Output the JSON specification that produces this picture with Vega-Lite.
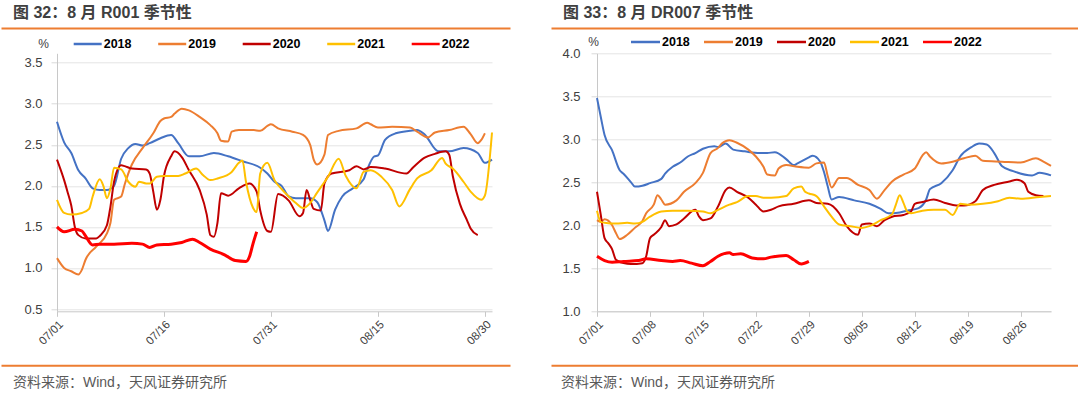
{
  "$schema": "https://vega.github.io/schema/vega-lite/v6.json",
  "padding": {"left": 1, "top": 4, "right": -46, "bottom": 0},
  "datasets": {
    "r001": [
      {"date":"2022-07-01T00:00","year":"2018","value":2.78},{"date":"2022-07-02T00:00","year":"2018","value":2.53},{"date":"2022-07-03T00:00","year":"2018","value":2.40},{"date":"2022-07-04T00:00","year":"2018","value":2.19},{"date":"2022-07-05T00:00","year":"2018","value":2.09},{"date":"2022-07-06T00:00","year":"2018","value":1.97},{"date":"2022-07-07T00:00","year":"2018","value":1.95},{"date":"2022-07-08T00:00","year":"2018","value":1.95},{"date":"2022-07-09T00:00","year":"2018","value":2.00},{"date":"2022-07-10T00:00","year":"2018","value":2.33},{"date":"2022-07-11T00:00","year":"2018","value":2.46},{"date":"2022-07-12T00:00","year":"2018","value":2.51},{"date":"2022-07-13T00:00","year":"2018","value":2.49},{"date":"2022-07-14T00:00","year":"2018","value":2.52},{"date":"2022-07-15T12:00","year":"2018","value":2.58},{"date":"2022-07-17T00:00","year":"2018","value":2.62},{"date":"2022-07-18T00:00","year":"2018","value":2.52},{"date":"2022-07-19T12:00","year":"2018","value":2.36},{"date":"2022-07-21T00:00","year":"2018","value":2.36},{"date":"2022-07-23T00:00","year":"2018","value":2.40},{"date":"2022-07-25T00:00","year":"2018","value":2.36},{"date":"2022-07-27T00:00","year":"2018","value":2.30},{"date":"2022-07-29T12:00","year":"2018","value":2.22},{"date":"2022-07-30T12:00","year":"2018","value":2.15},{"date":"2022-07-31T12:00","year":"2018","value":2.05},{"date":"2022-08-01T12:00","year":"2018","value":2.00},{"date":"2022-08-02T12:00","year":"2018","value":1.87},{"date":"2022-08-03T12:00","year":"2018","value":1.85},{"date":"2022-08-05T12:00","year":"2018","value":1.85},{"date":"2022-08-06T12:00","year":"2018","value":1.80},{"date":"2022-08-07T12:00","year":"2018","value":1.58},{"date":"2022-08-08T00:00","year":"2018","value":1.45},{"date":"2022-08-09T00:00","year":"2018","value":1.71},{"date":"2022-08-10T00:00","year":"2018","value":1.87},{"date":"2022-08-11T12:00","year":"2018","value":1.97},{"date":"2022-08-13T00:00","year":"2018","value":2.08},{"date":"2022-08-13T12:00","year":"2018","value":2.20},{"date":"2022-08-14T12:00","year":"2018","value":2.36},{"date":"2022-08-15T00:00","year":"2018","value":2.37},{"date":"2022-08-16T00:00","year":"2018","value":2.56},{"date":"2022-08-17T12:00","year":"2018","value":2.64},{"date":"2022-08-19T12:00","year":"2018","value":2.67},{"date":"2022-08-20T12:00","year":"2018","value":2.68},{"date":"2022-08-21T12:00","year":"2018","value":2.63},{"date":"2022-08-23T12:00","year":"2018","value":2.42},{"date":"2022-08-25T00:00","year":"2018","value":2.42},{"date":"2022-08-27T00:00","year":"2018","value":2.46},{"date":"2022-08-29T00:00","year":"2018","value":2.40},{"date":"2022-08-30T00:00","year":"2018","value":2.28},{"date":"2022-08-31T00:00","year":"2018","value":2.32},
      {"date":"2022-07-01T00:00","year":"2019","value":1.12},{"date":"2022-07-02T00:00","year":"2019","value":1.00},{"date":"2022-07-03T00:00","year":"2019","value":0.96},{"date":"2022-07-04T00:00","year":"2019","value":0.92},{"date":"2022-07-04T12:00","year":"2019","value":0.98},{"date":"2022-07-05T00:00","year":"2019","value":1.10},{"date":"2022-07-06T12:00","year":"2019","value":1.26},{"date":"2022-07-08T00:00","year":"2019","value":1.42},{"date":"2022-07-08T12:00","year":"2019","value":1.55},{"date":"2022-07-09T00:00","year":"2019","value":1.83},{"date":"2022-07-10T00:00","year":"2019","value":1.87},{"date":"2022-07-10T12:00","year":"2019","value":2.02},{"date":"2022-07-11T12:00","year":"2019","value":2.26},{"date":"2022-07-13T00:00","year":"2019","value":2.46},{"date":"2022-07-14T12:00","year":"2019","value":2.64},{"date":"2022-07-15T12:00","year":"2019","value":2.79},{"date":"2022-07-16T00:00","year":"2019","value":2.82},{"date":"2022-07-17T00:00","year":"2019","value":2.84},{"date":"2022-07-17T12:00","year":"2019","value":2.88},{"date":"2022-07-18T12:00","year":"2019","value":2.94},{"date":"2022-07-19T12:00","year":"2019","value":2.92},{"date":"2022-07-21T00:00","year":"2019","value":2.84},{"date":"2022-07-22T12:00","year":"2019","value":2.74},{"date":"2022-07-23T12:00","year":"2019","value":2.64},{"date":"2022-07-24T00:00","year":"2019","value":2.55},{"date":"2022-07-25T00:00","year":"2019","value":2.54},{"date":"2022-07-25T12:00","year":"2019","value":2.66},{"date":"2022-07-26T12:00","year":"2019","value":2.68},{"date":"2022-07-28T12:00","year":"2019","value":2.68},{"date":"2022-07-29T12:00","year":"2019","value":2.67},{"date":"2022-07-30T12:00","year":"2019","value":2.73},{"date":"2022-07-31T00:00","year":"2019","value":2.75},{"date":"2022-08-01T00:00","year":"2019","value":2.70},{"date":"2022-08-03T00:00","year":"2019","value":2.66},{"date":"2022-08-04T12:00","year":"2019","value":2.62},{"date":"2022-08-05T12:00","year":"2019","value":2.50},{"date":"2022-08-06T00:00","year":"2019","value":2.32},{"date":"2022-08-06T12:00","year":"2019","value":2.26},{"date":"2022-08-07T12:00","year":"2019","value":2.38},{"date":"2022-08-08T00:00","year":"2019","value":2.62},{"date":"2022-08-09T12:00","year":"2019","value":2.67},{"date":"2022-08-12T00:00","year":"2019","value":2.70},{"date":"2022-08-13T12:00","year":"2019","value":2.77},{"date":"2022-08-14T00:00","year":"2019","value":2.75},{"date":"2022-08-15T00:00","year":"2019","value":2.71},{"date":"2022-08-17T00:00","year":"2019","value":2.72},{"date":"2022-08-19T12:00","year":"2019","value":2.71},{"date":"2022-08-20T12:00","year":"2019","value":2.66},{"date":"2022-08-22T00:00","year":"2019","value":2.59},{"date":"2022-08-23T00:00","year":"2019","value":2.65},{"date":"2022-08-25T00:00","year":"2019","value":2.68},{"date":"2022-08-27T00:00","year":"2019","value":2.72},{"date":"2022-08-28T00:00","year":"2019","value":2.63},{"date":"2022-08-29T00:00","year":"2019","value":2.52},{"date":"2022-08-29T12:00","year":"2019","value":2.56},{"date":"2022-08-30T00:00","year":"2019","value":2.64},
      {"date":"2022-07-01T00:00","year":"2020","value":2.32},{"date":"2022-07-02T00:00","year":"2020","value":2.07},{"date":"2022-07-02T12:00","year":"2020","value":1.92},{"date":"2022-07-03T00:00","year":"2020","value":1.76},{"date":"2022-07-03T12:00","year":"2020","value":1.50},{"date":"2022-07-04T00:00","year":"2020","value":1.40},{"date":"2022-07-05T00:00","year":"2020","value":1.36},{"date":"2022-07-06T12:00","year":"2020","value":1.36},{"date":"2022-07-07T00:00","year":"2020","value":1.39},{"date":"2022-07-08T00:00","year":"2020","value":1.52},{"date":"2022-07-08T12:00","year":"2020","value":1.75},{"date":"2022-07-09T00:00","year":"2020","value":2.05},{"date":"2022-07-10T00:00","year":"2020","value":2.25},{"date":"2022-07-10T12:00","year":"2020","value":2.24},{"date":"2022-07-11T12:00","year":"2020","value":2.21},{"date":"2022-07-13T12:00","year":"2020","value":2.20},{"date":"2022-07-14T00:00","year":"2020","value":2.15},{"date":"2022-07-14T12:00","year":"2020","value":1.93},{"date":"2022-07-15T00:00","year":"2020","value":1.71},{"date":"2022-07-15T12:00","year":"2020","value":1.83},{"date":"2022-07-16T00:00","year":"2020","value":2.12},{"date":"2022-07-17T00:00","year":"2020","value":2.36},{"date":"2022-07-17T12:00","year":"2020","value":2.42},{"date":"2022-07-18T12:00","year":"2020","value":2.35},{"date":"2022-07-19T12:00","year":"2020","value":2.19},{"date":"2022-07-21T00:00","year":"2020","value":1.95},{"date":"2022-07-22T00:00","year":"2020","value":1.65},{"date":"2022-07-22T12:00","year":"2020","value":1.40},{"date":"2022-07-23T00:00","year":"2020","value":1.38},{"date":"2022-07-23T12:00","year":"2020","value":1.55},{"date":"2022-07-24T00:00","year":"2020","value":1.91},{"date":"2022-07-25T00:00","year":"2020","value":1.88},{"date":"2022-07-26T12:00","year":"2020","value":1.97},{"date":"2022-07-28T00:00","year":"2020","value":2.03},{"date":"2022-07-29T00:00","year":"2020","value":1.93},{"date":"2022-07-29T12:00","year":"2020","value":1.70},{"date":"2022-07-30T12:00","year":"2020","value":1.45},{"date":"2022-07-31T00:00","year":"2020","value":1.44},{"date":"2022-08-01T00:00","year":"2020","value":1.90},{"date":"2022-08-02T12:00","year":"2020","value":1.82},{"date":"2022-08-04T00:00","year":"2020","value":1.63},{"date":"2022-08-04T12:00","year":"2020","value":1.67},{"date":"2022-08-05T00:00","year":"2020","value":1.95},{"date":"2022-08-05T12:00","year":"2020","value":1.83},{"date":"2022-08-06T00:00","year":"2020","value":1.72},{"date":"2022-08-07T00:00","year":"2020","value":1.70},{"date":"2022-08-07T12:00","year":"2020","value":2.03},{"date":"2022-08-08T12:00","year":"2020","value":2.15},{"date":"2022-08-11T00:00","year":"2020","value":2.19},{"date":"2022-08-12T00:00","year":"2020","value":2.24},{"date":"2022-08-13T00:00","year":"2020","value":2.20},{"date":"2022-08-14T00:00","year":"2020","value":2.23},{"date":"2022-08-16T00:00","year":"2020","value":2.21},{"date":"2022-08-19T00:00","year":"2020","value":2.15},{"date":"2022-08-20T00:00","year":"2020","value":2.23},{"date":"2022-08-21T12:00","year":"2020","value":2.34},{"date":"2022-08-23T00:00","year":"2020","value":2.39},{"date":"2022-08-24T12:00","year":"2020","value":2.42},{"date":"2022-08-25T00:00","year":"2020","value":2.38},{"date":"2022-08-25T12:00","year":"2020","value":2.12},{"date":"2022-08-26T12:00","year":"2020","value":1.78},{"date":"2022-08-27T12:00","year":"2020","value":1.58},{"date":"2022-08-28T00:00","year":"2020","value":1.48},{"date":"2022-08-29T00:00","year":"2020","value":1.40},
      {"date":"2022-07-01T00:00","year":"2021","value":1.83},{"date":"2022-07-02T00:00","year":"2021","value":1.67},{"date":"2022-07-03T00:00","year":"2021","value":1.65},{"date":"2022-07-04T12:00","year":"2021","value":1.67},{"date":"2022-07-05T12:00","year":"2021","value":1.72},{"date":"2022-07-06T00:00","year":"2021","value":1.87},{"date":"2022-07-07T00:00","year":"2021","value":2.08},{"date":"2022-07-07T12:00","year":"2021","value":2.00},{"date":"2022-07-08T00:00","year":"2021","value":1.85},{"date":"2022-07-08T12:00","year":"2021","value":1.97},{"date":"2022-07-09T00:00","year":"2021","value":2.22},{"date":"2022-07-10T00:00","year":"2021","value":2.20},{"date":"2022-07-11T00:00","year":"2021","value":2.05},{"date":"2022-07-12T00:00","year":"2021","value":1.99},{"date":"2022-07-12T12:00","year":"2021","value":2.05},{"date":"2022-07-13T12:00","year":"2021","value":2.03},{"date":"2022-07-14T00:00","year":"2021","value":2.03},{"date":"2022-07-15T00:00","year":"2021","value":2.11},{"date":"2022-07-16T00:00","year":"2021","value":2.12},{"date":"2022-07-18T00:00","year":"2021","value":2.12},{"date":"2022-07-19T00:00","year":"2021","value":2.15},{"date":"2022-07-20T12:00","year":"2021","value":2.21},{"date":"2022-07-21T12:00","year":"2021","value":2.13},{"date":"2022-07-22T12:00","year":"2021","value":2.07},{"date":"2022-07-23T12:00","year":"2021","value":2.09},{"date":"2022-07-25T12:00","year":"2021","value":2.17},{"date":"2022-07-26T12:00","year":"2021","value":2.28},{"date":"2022-07-27T00:00","year":"2021","value":2.31},{"date":"2022-07-27T12:00","year":"2021","value":2.05},{"date":"2022-07-28T12:00","year":"2021","value":1.73},{"date":"2022-07-29T00:00","year":"2021","value":1.68},{"date":"2022-07-29T12:00","year":"2021","value":2.15},{"date":"2022-07-30T12:00","year":"2021","value":2.28},{"date":"2022-07-31T12:00","year":"2021","value":2.07},{"date":"2022-08-01T12:00","year":"2021","value":1.96},{"date":"2022-08-02T12:00","year":"2021","value":1.87},{"date":"2022-08-03T12:00","year":"2021","value":1.79},{"date":"2022-08-04T12:00","year":"2021","value":1.73},{"date":"2022-08-05T12:00","year":"2021","value":1.79},{"date":"2022-08-06T12:00","year":"2021","value":1.92},{"date":"2022-08-08T00:00","year":"2021","value":2.11},{"date":"2022-08-09T12:00","year":"2021","value":2.33},{"date":"2022-08-10T12:00","year":"2021","value":2.12},{"date":"2022-08-12T00:00","year":"2021","value":1.97},{"date":"2022-08-13T00:00","year":"2021","value":2.17},{"date":"2022-08-14T00:00","year":"2021","value":2.19},{"date":"2022-08-15T12:00","year":"2021","value":2.11},{"date":"2022-08-17T00:00","year":"2021","value":1.95},{"date":"2022-08-18T00:00","year":"2021","value":1.75},{"date":"2022-08-19T12:00","year":"2021","value":1.96},{"date":"2022-08-20T12:00","year":"2021","value":2.09},{"date":"2022-08-22T12:00","year":"2021","value":2.19},{"date":"2022-08-24T00:00","year":"2021","value":2.34},{"date":"2022-08-24T12:00","year":"2021","value":2.27},{"date":"2022-08-25T12:00","year":"2021","value":2.21},{"date":"2022-08-27T00:00","year":"2021","value":2.05},{"date":"2022-08-28T00:00","year":"2021","value":1.93},{"date":"2022-08-29T12:00","year":"2021","value":1.83},{"date":"2022-08-30T00:00","year":"2021","value":1.88},{"date":"2022-08-31T00:00","year":"2021","value":2.65},
      {"date":"2022-07-01T00:00","year":"2022","value":1.50},{"date":"2022-07-02T00:00","year":"2022","value":1.44},{"date":"2022-07-03T12:00","year":"2022","value":1.47},{"date":"2022-07-04T12:00","year":"2022","value":1.45},{"date":"2022-07-05T00:00","year":"2022","value":1.39},{"date":"2022-07-06T00:00","year":"2022","value":1.28},{"date":"2022-07-07T00:00","year":"2022","value":1.29},{"date":"2022-07-09T00:00","year":"2022","value":1.29},{"date":"2022-07-11T12:00","year":"2022","value":1.30},{"date":"2022-07-13T00:00","year":"2022","value":1.29},{"date":"2022-07-14T00:00","year":"2022","value":1.25},{"date":"2022-07-15T00:00","year":"2022","value":1.28},{"date":"2022-07-17T00:00","year":"2022","value":1.29},{"date":"2022-07-18T12:00","year":"2022","value":1.31},{"date":"2022-07-20T00:00","year":"2022","value":1.35},{"date":"2022-07-21T00:00","year":"2022","value":1.31},{"date":"2022-07-22T12:00","year":"2022","value":1.23},{"date":"2022-07-24T12:00","year":"2022","value":1.16},{"date":"2022-07-26T00:00","year":"2022","value":1.09},{"date":"2022-07-27T12:00","year":"2022","value":1.08},{"date":"2022-07-28T00:00","year":"2022","value":1.14},{"date":"2022-07-28T12:00","year":"2022","value":1.30},{"date":"2022-07-29T00:00","year":"2022","value":1.44}
    ],
    "dr007": [
      {"date":"2022-07-01T00:00","year":"2018","value":3.48},{"date":"2022-07-01T12:00","year":"2018","value":3.26},{"date":"2022-07-02T00:00","year":"2018","value":3.05},{"date":"2022-07-03T00:00","year":"2018","value":2.87},{"date":"2022-07-04T00:00","year":"2018","value":2.64},{"date":"2022-07-04T12:00","year":"2018","value":2.60},{"date":"2022-07-05T12:00","year":"2018","value":2.50},{"date":"2022-07-06T00:00","year":"2018","value":2.45},{"date":"2022-07-07T00:00","year":"2018","value":2.46},{"date":"2022-07-08T00:00","year":"2018","value":2.49},{"date":"2022-07-09T12:00","year":"2018","value":2.54},{"date":"2022-07-10T00:00","year":"2018","value":2.60},{"date":"2022-07-11T00:00","year":"2018","value":2.68},{"date":"2022-07-12T00:00","year":"2018","value":2.73},{"date":"2022-07-13T00:00","year":"2018","value":2.80},{"date":"2022-07-14T00:00","year":"2018","value":2.84},{"date":"2022-07-15T00:00","year":"2018","value":2.89},{"date":"2022-07-16T12:00","year":"2018","value":2.92},{"date":"2022-07-17T00:00","year":"2018","value":2.91},{"date":"2022-07-18T00:00","year":"2018","value":2.95},{"date":"2022-07-19T00:00","year":"2018","value":2.88},{"date":"2022-07-20T12:00","year":"2018","value":2.86},{"date":"2022-07-22T12:00","year":"2018","value":2.84},{"date":"2022-07-23T12:00","year":"2018","value":2.84},{"date":"2022-07-24T12:00","year":"2018","value":2.85},{"date":"2022-07-26T00:00","year":"2018","value":2.77},{"date":"2022-07-27T00:00","year":"2018","value":2.70},{"date":"2022-07-27T12:00","year":"2018","value":2.72},{"date":"2022-07-29T00:00","year":"2018","value":2.79},{"date":"2022-07-29T12:00","year":"2018","value":2.81},{"date":"2022-07-30T12:00","year":"2018","value":2.74},{"date":"2022-07-31T00:00","year":"2018","value":2.62},{"date":"2022-07-31T12:00","year":"2018","value":2.45},{"date":"2022-08-01T00:00","year":"2018","value":2.30},{"date":"2022-08-02T00:00","year":"2018","value":2.33},{"date":"2022-08-04T00:00","year":"2018","value":2.29},{"date":"2022-08-06T00:00","year":"2018","value":2.25},{"date":"2022-08-07T12:00","year":"2018","value":2.19},{"date":"2022-08-08T12:00","year":"2018","value":2.14},{"date":"2022-08-10T00:00","year":"2018","value":2.15},{"date":"2022-08-11T00:00","year":"2018","value":2.17},{"date":"2022-08-12T12:00","year":"2018","value":2.20},{"date":"2022-08-13T12:00","year":"2018","value":2.30},{"date":"2022-08-14T00:00","year":"2018","value":2.42},{"date":"2022-08-15T12:00","year":"2018","value":2.49},{"date":"2022-08-17T00:00","year":"2018","value":2.64},{"date":"2022-08-18T00:00","year":"2018","value":2.80},{"date":"2022-08-19T12:00","year":"2018","value":2.91},{"date":"2022-08-20T12:00","year":"2018","value":2.95},{"date":"2022-08-21T12:00","year":"2018","value":2.94},{"date":"2022-08-22T12:00","year":"2018","value":2.84},{"date":"2022-08-23T12:00","year":"2018","value":2.69},{"date":"2022-08-25T00:00","year":"2018","value":2.63},{"date":"2022-08-27T12:00","year":"2018","value":2.58},{"date":"2022-08-28T12:00","year":"2018","value":2.61},{"date":"2022-08-30T00:00","year":"2018","value":2.58},
      {"date":"2022-07-01T00:00","year":"2019","value":2.06},{"date":"2022-07-01T12:00","year":"2019","value":2.04},{"date":"2022-07-02T00:00","year":"2019","value":2.07},{"date":"2022-07-03T00:00","year":"2019","value":2.00},{"date":"2022-07-03T12:00","year":"2019","value":1.91},{"date":"2022-07-04T00:00","year":"2019","value":1.84},{"date":"2022-07-05T00:00","year":"2019","value":1.89},{"date":"2022-07-06T00:00","year":"2019","value":1.97},{"date":"2022-07-07T00:00","year":"2019","value":2.05},{"date":"2022-07-07T12:00","year":"2019","value":2.14},{"date":"2022-07-08T12:00","year":"2019","value":2.24},{"date":"2022-07-09T00:00","year":"2019","value":2.35},{"date":"2022-07-09T12:00","year":"2019","value":2.30},{"date":"2022-07-10T00:00","year":"2019","value":2.24},{"date":"2022-07-11T12:00","year":"2019","value":2.29},{"date":"2022-07-12T12:00","year":"2019","value":2.39},{"date":"2022-07-14T00:00","year":"2019","value":2.49},{"date":"2022-07-15T00:00","year":"2019","value":2.61},{"date":"2022-07-16T00:00","year":"2019","value":2.84},{"date":"2022-07-17T00:00","year":"2019","value":2.90},{"date":"2022-07-17T12:00","year":"2019","value":2.95},{"date":"2022-07-18T12:00","year":"2019","value":2.99},{"date":"2022-07-19T12:00","year":"2019","value":2.96},{"date":"2022-07-21T00:00","year":"2019","value":2.88},{"date":"2022-07-22T00:00","year":"2019","value":2.80},{"date":"2022-07-23T00:00","year":"2019","value":2.68},{"date":"2022-07-23T12:00","year":"2019","value":2.59},{"date":"2022-07-24T12:00","year":"2019","value":2.58},{"date":"2022-07-25T00:00","year":"2019","value":2.66},{"date":"2022-07-26T00:00","year":"2019","value":2.70},{"date":"2022-07-27T12:00","year":"2019","value":2.68},{"date":"2022-07-29T00:00","year":"2019","value":2.67},{"date":"2022-07-30T00:00","year":"2019","value":2.72},{"date":"2022-07-31T00:00","year":"2019","value":2.73},{"date":"2022-07-31T12:00","year":"2019","value":2.57},{"date":"2022-08-01T00:00","year":"2019","value":2.44},{"date":"2022-08-02T00:00","year":"2019","value":2.55},{"date":"2022-08-03T00:00","year":"2019","value":2.55},{"date":"2022-08-04T12:00","year":"2019","value":2.47},{"date":"2022-08-06T00:00","year":"2019","value":2.41},{"date":"2022-08-07T00:00","year":"2019","value":2.31},{"date":"2022-08-08T00:00","year":"2019","value":2.41},{"date":"2022-08-09T00:00","year":"2019","value":2.51},{"date":"2022-08-10T12:00","year":"2019","value":2.59},{"date":"2022-08-12T00:00","year":"2019","value":2.66},{"date":"2022-08-13T00:00","year":"2019","value":2.81},{"date":"2022-08-13T12:00","year":"2019","value":2.85},{"date":"2022-08-14T00:00","year":"2019","value":2.80},{"date":"2022-08-15T12:00","year":"2019","value":2.72},{"date":"2022-08-17T00:00","year":"2019","value":2.74},{"date":"2022-08-18T12:00","year":"2019","value":2.78},{"date":"2022-08-20T00:00","year":"2019","value":2.81},{"date":"2022-08-21T00:00","year":"2019","value":2.75},{"date":"2022-08-23T12:00","year":"2019","value":2.74},{"date":"2022-08-26T00:00","year":"2019","value":2.73},{"date":"2022-08-28T00:00","year":"2019","value":2.78},{"date":"2022-08-29T00:00","year":"2019","value":2.74},{"date":"2022-08-30T00:00","year":"2019","value":2.69},
      {"date":"2022-07-01T00:00","year":"2020","value":2.39},{"date":"2022-07-01T12:00","year":"2020","value":2.12},{"date":"2022-07-02T00:00","year":"2020","value":1.85},{"date":"2022-07-02T12:00","year":"2020","value":1.79},{"date":"2022-07-03T00:00","year":"2020","value":1.72},{"date":"2022-07-03T12:00","year":"2020","value":1.60},{"date":"2022-07-04T12:00","year":"2020","value":1.56},{"date":"2022-07-05T12:00","year":"2020","value":1.55},{"date":"2022-07-07T00:00","year":"2020","value":1.56},{"date":"2022-07-07T12:00","year":"2020","value":1.64},{"date":"2022-07-08T00:00","year":"2020","value":1.85},{"date":"2022-07-08T12:00","year":"2020","value":1.89},{"date":"2022-07-09T12:00","year":"2020","value":1.98},{"date":"2022-07-10T00:00","year":"2020","value":2.06},{"date":"2022-07-10T12:00","year":"2020","value":1.99},{"date":"2022-07-11T12:00","year":"2020","value":2.01},{"date":"2022-07-12T12:00","year":"2020","value":2.08},{"date":"2022-07-14T00:00","year":"2020","value":2.18},{"date":"2022-07-14T12:00","year":"2020","value":2.10},{"date":"2022-07-15T00:00","year":"2020","value":2.06},{"date":"2022-07-16T00:00","year":"2020","value":2.08},{"date":"2022-07-17T00:00","year":"2020","value":2.22},{"date":"2022-07-18T00:00","year":"2020","value":2.41},{"date":"2022-07-18T12:00","year":"2020","value":2.44},{"date":"2022-07-19T12:00","year":"2020","value":2.39},{"date":"2022-07-21T00:00","year":"2020","value":2.32},{"date":"2022-07-22T00:00","year":"2020","value":2.24},{"date":"2022-07-23T00:00","year":"2020","value":2.16},{"date":"2022-07-24T00:00","year":"2020","value":2.18},{"date":"2022-07-25T00:00","year":"2020","value":2.22},{"date":"2022-07-27T00:00","year":"2020","value":2.25},{"date":"2022-07-29T00:00","year":"2020","value":2.29},{"date":"2022-07-30T00:00","year":"2020","value":2.26},{"date":"2022-07-31T12:00","year":"2020","value":2.25},{"date":"2022-08-02T00:00","year":"2020","value":2.14},{"date":"2022-08-03T00:00","year":"2020","value":1.99},{"date":"2022-08-04T12:00","year":"2020","value":1.89},{"date":"2022-08-05T00:00","year":"2020","value":2.01},{"date":"2022-08-06T00:00","year":"2020","value":2.02},{"date":"2022-08-07T00:00","year":"2020","value":1.99},{"date":"2022-08-08T00:00","year":"2020","value":2.06},{"date":"2022-08-09T00:00","year":"2020","value":2.10},{"date":"2022-08-10T12:00","year":"2020","value":2.12},{"date":"2022-08-11T12:00","year":"2020","value":2.16},{"date":"2022-08-12T00:00","year":"2020","value":2.25},{"date":"2022-08-13T00:00","year":"2020","value":2.27},{"date":"2022-08-14T12:00","year":"2020","value":2.30},{"date":"2022-08-16T00:00","year":"2020","value":2.26},{"date":"2022-08-17T12:00","year":"2020","value":2.23},{"date":"2022-08-18T12:00","year":"2020","value":2.23},{"date":"2022-08-20T00:00","year":"2020","value":2.28},{"date":"2022-08-21T00:00","year":"2020","value":2.41},{"date":"2022-08-22T12:00","year":"2020","value":2.47},{"date":"2022-08-24T12:00","year":"2020","value":2.51},{"date":"2022-08-25T12:00","year":"2020","value":2.53},{"date":"2022-08-26T12:00","year":"2020","value":2.49},{"date":"2022-08-27T00:00","year":"2020","value":2.39},{"date":"2022-08-28T00:00","year":"2020","value":2.35},{"date":"2022-08-29T00:00","year":"2020","value":2.34},
      {"date":"2022-07-01T00:00","year":"2021","value":2.17},{"date":"2022-07-01T12:00","year":"2021","value":2.04},{"date":"2022-07-02T00:00","year":"2021","value":2.03},{"date":"2022-07-03T12:00","year":"2021","value":2.02},{"date":"2022-07-05T00:00","year":"2021","value":2.03},{"date":"2022-07-06T00:00","year":"2021","value":2.02},{"date":"2022-07-07T00:00","year":"2021","value":2.04},{"date":"2022-07-08T00:00","year":"2021","value":2.10},{"date":"2022-07-09T12:00","year":"2021","value":2.16},{"date":"2022-07-11T00:00","year":"2021","value":2.17},{"date":"2022-07-13T00:00","year":"2021","value":2.17},{"date":"2022-07-15T00:00","year":"2021","value":2.16},{"date":"2022-07-16T00:00","year":"2021","value":2.14},{"date":"2022-07-17T00:00","year":"2021","value":2.18},{"date":"2022-07-18T12:00","year":"2021","value":2.24},{"date":"2022-07-19T12:00","year":"2021","value":2.27},{"date":"2022-07-21T00:00","year":"2021","value":2.34},{"date":"2022-07-22T00:00","year":"2021","value":2.34},{"date":"2022-07-23T00:00","year":"2021","value":2.32},{"date":"2022-07-24T00:00","year":"2021","value":2.32},{"date":"2022-07-26T00:00","year":"2021","value":2.34},{"date":"2022-07-27T00:00","year":"2021","value":2.43},{"date":"2022-07-28T00:00","year":"2021","value":2.45},{"date":"2022-07-28T12:00","year":"2021","value":2.39},{"date":"2022-07-29T00:00","year":"2021","value":2.37},{"date":"2022-07-30T00:00","year":"2021","value":2.34},{"date":"2022-07-31T00:00","year":"2021","value":2.22},{"date":"2022-08-01T00:00","year":"2021","value":2.10},{"date":"2022-08-02T00:00","year":"2021","value":2.01},{"date":"2022-08-03T12:00","year":"2021","value":1.99},{"date":"2022-08-05T00:00","year":"2021","value":1.97},{"date":"2022-08-06T00:00","year":"2021","value":1.99},{"date":"2022-08-07T12:00","year":"2021","value":2.06},{"date":"2022-08-09T00:00","year":"2021","value":2.13},{"date":"2022-08-09T12:00","year":"2021","value":2.24},{"date":"2022-08-10T00:00","year":"2021","value":2.35},{"date":"2022-08-10T12:00","year":"2021","value":2.26},{"date":"2022-08-11T00:00","year":"2021","value":2.16},{"date":"2022-08-11T12:00","year":"2021","value":2.14},{"date":"2022-08-13T00:00","year":"2021","value":2.17},{"date":"2022-08-14T12:00","year":"2021","value":2.18},{"date":"2022-08-16T00:00","year":"2021","value":2.18},{"date":"2022-08-17T00:00","year":"2021","value":2.12},{"date":"2022-08-18T00:00","year":"2021","value":2.25},{"date":"2022-08-19T00:00","year":"2021","value":2.24},{"date":"2022-08-21T00:00","year":"2021","value":2.25},{"date":"2022-08-23T00:00","year":"2021","value":2.28},{"date":"2022-08-24T12:00","year":"2021","value":2.32},{"date":"2022-08-26T00:00","year":"2021","value":2.31},{"date":"2022-08-28T12:00","year":"2021","value":2.33},{"date":"2022-08-30T00:00","year":"2021","value":2.34},
      {"date":"2022-07-01T00:00","year":"2022","value":1.64},{"date":"2022-07-02T00:00","year":"2022","value":1.59},{"date":"2022-07-03T00:00","year":"2022","value":1.57},{"date":"2022-07-04T12:00","year":"2022","value":1.58},{"date":"2022-07-06T12:00","year":"2022","value":1.59},{"date":"2022-07-07T12:00","year":"2022","value":1.61},{"date":"2022-07-09T12:00","year":"2022","value":1.59},{"date":"2022-07-11T00:00","year":"2022","value":1.58},{"date":"2022-07-12T00:00","year":"2022","value":1.59},{"date":"2022-07-13T12:00","year":"2022","value":1.56},{"date":"2022-07-15T00:00","year":"2022","value":1.53},{"date":"2022-07-16T00:00","year":"2022","value":1.58},{"date":"2022-07-17T00:00","year":"2022","value":1.64},{"date":"2022-07-18T12:00","year":"2022","value":1.68},{"date":"2022-07-19T00:00","year":"2022","value":1.66},{"date":"2022-07-20T00:00","year":"2022","value":1.67},{"date":"2022-07-21T12:00","year":"2022","value":1.62},{"date":"2022-07-23T00:00","year":"2022","value":1.61},{"date":"2022-07-24T00:00","year":"2022","value":1.63},{"date":"2022-07-26T00:00","year":"2022","value":1.65},{"date":"2022-07-27T00:00","year":"2022","value":1.60},{"date":"2022-07-28T00:00","year":"2022","value":1.55},{"date":"2022-07-29T00:00","year":"2022","value":1.58}
    ]
  },
  "columns": 2,
  "spacing": {"row": 5.3, "column": -15},
  "align": "each",
  "bounds": "full",
  "resolve": {
    "scale": {"x": "independent", "y": "independent", "color": "independent"},
    "axis": {"x": "independent", "y": "independent"},
    "legend": {"color": "independent"}
  },
  "concat": [
    {
      "width": 509, "height": 1,
      "data": {"values": []},
      "mark": {"type": "point", "opacity": 0},
      "encoding": {
        "x": {"field": "e", "type": "quantitative", "scale": {"domain": [0, 1], "nice": false, "zero": false},
          "axis": {"position": -56, "offset": 0, "domainColor": "#ED7D31", "domainWidth": 2, "ticks": false, "labels": false, "grid": false, "title": null}}
      },
      "title": {"text": "图 32：8 月 R001 季节性", "anchor": "start", "frame": "group", "dx": -44, "offset": 6.3, "fontSize": 16, "fontWeight": "bold", "color": "#404040"}
    },
    {
      "width": 527, "height": 1,
      "data": {"values": []},
      "mark": {"type": "point", "opacity": 0},
      "encoding": {
        "x": {"field": "e", "type": "quantitative", "scale": {"domain": [0, 1], "nice": false, "zero": false},
          "axis": {"position": -46, "offset": 0, "domainColor": "#ED7D31", "domainWidth": 2, "ticks": false, "labels": false, "grid": false, "title": null}}
      },
      "title": {"text": "图 33：8 月 DR007 季节性", "anchor": "start", "frame": "group", "dx": -34, "offset": 6.3, "fontSize": 16, "fontWeight": "bold", "color": "#404040"}
    },
    {
      "width": 435, "height": 258,
      "data": {"name": "r001"},
      "mark": {"type": "line", "interpolate": "monotone"},
      "encoding": {
        "x": {"field": "date", "type": "temporal",
          "scale": {"domain": [{"year": 2022, "month": 7, "date": 1}, {"year": 2022, "month": 8, "date": 31}]},
          "axis": {"title": null, "format": "%m/%d", "labelAngle": -45, "labelFontSize": 11.5, "labelColor": "#404040", "labelFlush": false, "labelOverlap": false, "labelPadding": 2, "tickSize": 5, "tickColor": "#c8c8c8", "domainColor": "#c8c8c8", "grid": false,
            "values": [{"year": 2022, "month": 7, "date": 1}, {"year": 2022, "month": 7, "date": 16}, {"year": 2022, "month": 7, "date": 31}, {"year": 2022, "month": 8, "date": 15}, {"year": 2022, "month": 8, "date": 30}]}},
        "y": {"field": "value", "type": "quantitative",
          "scale": {"domain": [0.472, 3.6145], "nice": false, "zero": false},
          "axis": {"title": "%", "titleAngle": 0, "titleX": -14, "titleY": -10.3, "titleAlign": "center", "titleBaseline": "middle", "titleFontWeight": "normal", "titleFontSize": 12, "titleColor": "#404040",
            "values": [0.5, 1, 1.5, 2, 2.5, 3, 3.5], "format": ".1f", "labelFontSize": 13, "labelColor": "#404040", "labelFlush": false, "labelPadding": 9, "tickSize": 6, "tickColor": "#d9d9d9", "domainColor": "#c8c8c8", "grid": true, "gridColor": "#e4e4e4"}},
        "color": {"field": "year", "type": "nominal",
          "scale": {"domain": ["2018", "2019", "2020", "2021", "2022"], "range": ["#4472C4", "#ED7D31", "#C00000", "#FFC000", "#FF0000"]},
          "legend": {"orient": "none", "legendX": 22.2, "legendY": -17.8, "direction": "horizontal", "title": null, "padding": 0, "symbolType": "M-2,0H2", "symbolSize": 196, "symbolStrokeWidth": 2.5, "symbolFillColor": "transparent", "labelFontSize": 12.5, "labelFontWeight": "bold", "labelColor": "#000000", "labelOffset": 7.5, "columnPadding": 20.5}},
        "strokeWidth": {"condition": {"test": "datum.year === '2022'", "value": 3}, "value": 2}
      }
    },
    {
      "width": 454, "height": 258,
      "data": {"name": "dr007"},
      "mark": {"type": "line", "interpolate": "monotone"},
      "encoding": {
        "x": {"field": "date", "type": "temporal",
          "scale": {"domain": [{"year": 2022, "month": 7, "date": 1}, {"year": 2022, "month": 8, "date": 30}]},
          "axis": {"title": null, "format": "%m/%d", "labelAngle": -45, "labelFontSize": 11.5, "labelColor": "#404040", "labelFlush": false, "labelOverlap": false, "labelPadding": 2, "tickSize": 5, "tickColor": "#c8c8c8", "domainColor": "#c8c8c8", "grid": false,
            "values": [{"year": 2022, "month": 7, "date": 1}, {"year": 2022, "month": 7, "date": 8}, {"year": 2022, "month": 7, "date": 15}, {"year": 2022, "month": 7, "date": 22}, {"year": 2022, "month": 7, "date": 29}, {"year": 2022, "month": 8, "date": 5}, {"year": 2022, "month": 8, "date": 12}, {"year": 2022, "month": 8, "date": 19}, {"year": 2022, "month": 8, "date": 26}]}},
        "y": {"field": "value", "type": "quantitative",
          "scale": {"domain": [1, 4], "nice": false, "zero": false},
          "axis": {"title": "%", "titleAngle": 0, "titleX": -4, "titleY": -12.3, "titleAlign": "center", "titleBaseline": "middle", "titleFontWeight": "normal", "titleFontSize": 12, "titleColor": "#404040",
            "values": [1, 1.5, 2, 2.5, 3, 3.5, 4], "format": ".1f", "labelFontSize": 13, "labelColor": "#404040", "labelFlush": false, "labelPadding": 11, "tickSize": 6, "tickColor": "#d9d9d9", "domainColor": "#c8c8c8", "grid": true, "gridColor": "#e4e4e4"}},
        "color": {"field": "year", "type": "nominal",
          "scale": {"domain": ["2018", "2019", "2020", "2021", "2022"], "range": ["#4472C4", "#ED7D31", "#C00000", "#FFC000", "#FF0000"]},
          "legend": {"orient": "none", "legendX": 40, "legendY": -19.8, "direction": "horizontal", "title": null, "padding": 0, "symbolType": "M-2,0H2", "symbolSize": 210.25, "symbolStrokeWidth": 2.5, "symbolFillColor": "transparent", "labelFontSize": 12.5, "labelFontWeight": "bold", "labelColor": "#000000", "labelOffset": 8, "columnPadding": 9}},
        "strokeWidth": {"condition": {"test": "datum.year === '2022'", "value": 3}, "value": 2}
      }
    },
    {
      "width": 509, "height": 12.7,
      "data": {"values": []},
      "mark": {"type": "point", "opacity": 0},
      "encoding": {
        "x": {"field": "e", "type": "quantitative", "scale": {"domain": [0, 1], "nice": false, "zero": false},
          "axis": {"position": -56, "offset": 0, "domainColor": "#ED7D31", "domainWidth": 2, "ticks": false, "labels": false, "grid": false,
            "title": "资料来源：Wind，天风证券研究所", "titleX": 11.5, "titleY": 17, "titleAlign": "left", "titleBaseline": "middle", "titleFontSize": 14, "titleFontWeight": "normal", "titleColor": "#595959"}}
      }
    },
    {
      "width": 527, "height": 12.7,
      "data": {"values": []},
      "mark": {"type": "point", "opacity": 0},
      "encoding": {
        "x": {"field": "e", "type": "quantitative", "scale": {"domain": [0, 1], "nice": false, "zero": false},
          "axis": {"position": -46, "offset": 0, "domainColor": "#ED7D31", "domainWidth": 2, "ticks": false, "labels": false, "grid": false,
            "title": "资料来源：Wind，天风证券研究所", "titleX": 9.5, "titleY": 17, "titleAlign": "left", "titleBaseline": "middle", "titleFontSize": 14, "titleFontWeight": "normal", "titleColor": "#595959"}}
      }
    }
  ],
  "config": {
    "font": "Liberation Sans, Noto Sans CJK SC, sans-serif",
    "view": {"stroke": null}
  }
}
